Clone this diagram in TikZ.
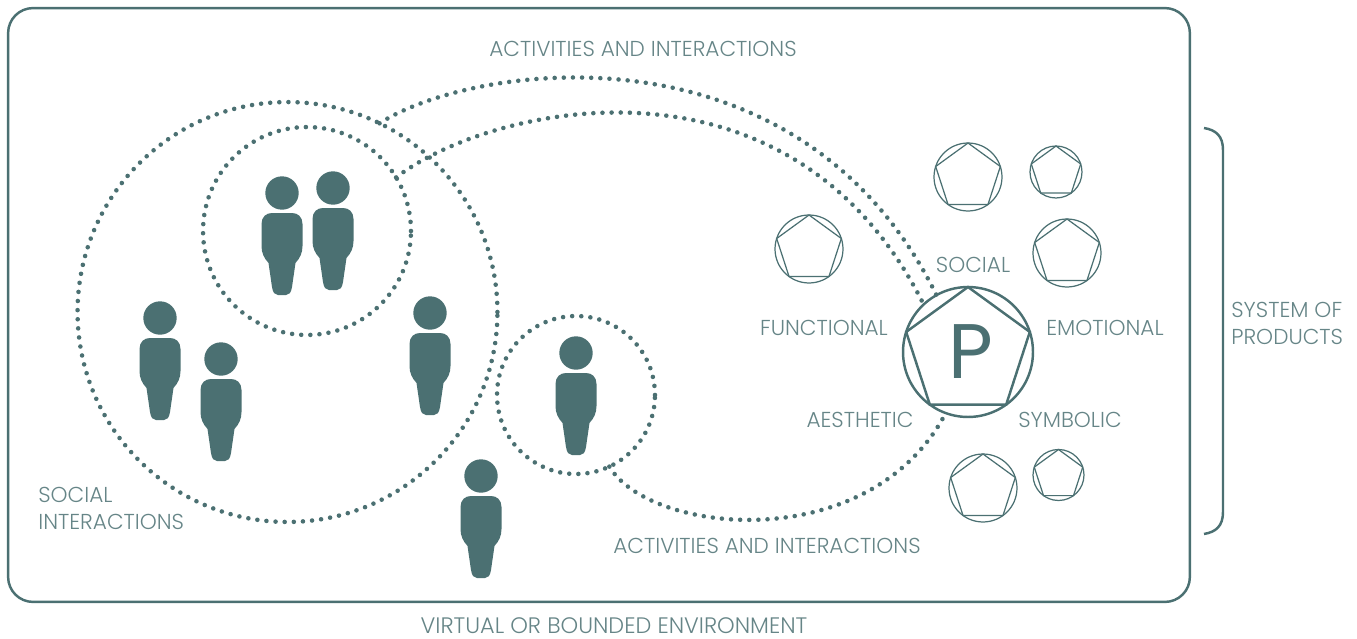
\documentclass[tikz,border=0pt]{standalone}
\usepackage{fontspec}
\usepackage{xcolor}
\usetikzlibrary{shapes.geometric}
\setmainfont{Poppins}[UprightFont=* Light]
\newfontfamily\letterfont{Poppins}
\definecolor{teal}{HTML}{4B7072}
\colorlet{labelteal}{teal!85}
\tikzset{
    label text/.style={text=labelteal, font=\fontsize{12.3pt}{15.3pt}\selectfont, inner sep=0pt},
    dots/.style={draw=teal, line width=2.6pt, line cap=round, dash pattern=on 0pt off 5.2pt},
    ring/.style={circle, draw=teal, inner sep=0pt, outer sep=0pt},
    penta/.style={regular polygon, regular polygon sides=5, draw=teal, inner sep=0pt, outer sep=0pt},
    person/.pic={
        \fill[teal] (0,0) circle (16.7);
        \fill[teal] (-10,20) -- (10,20) .. controls (16,20) and (20.5,24) .. (20.5,31) -- (20.5,53)
            .. controls (20.5,60) and (18,65) .. (13.5,70) -- (10,94) .. controls (9,100) and (7,102) .. (4,102)
            -- (-4,102) .. controls (-7,102) and (-9,100) .. (-10,94) -- (-13.5,70)
            .. controls (-18,65) and (-20.5,60) .. (-20.5,53) -- (-20.5,31) .. controls (-20.5,24) and (-16,20) .. (-10,20) -- cycle;
    }
}

\begin{document}
\begin{tikzpicture}[x=0.02cm, y=-0.02cm]
    \useasboundingbox (0,0) rectangle (1357,639);
    % environment
    \node[draw=teal, line width=1.4pt, rounded corners=0.5cm, minimum width=23.64cm, minimum height=11.88cm, inner sep=0pt] (environment) at (599,305) {};
    \node[label text, font=\fontsize{12.75pt}{15.3pt}\selectfont] (environment-label) at (614,626) {VIRTUAL OR BOUNDED ENVIRONMENT};
    % groups of people
    \node[ring, dots, minimum size=8.4cm] (group-large) at (287.5,312) {};
    \node[ring, dots, minimum size=4.16cm] (group-pair) at (307,231) {};
    \node[ring, dots, minimum size=3.16cm] (group-single) at (576,395) {};
    % people
    \foreach \px/\py [count=\i] in {160/318, 221/359, 282/193, 333/188, 430/313, 576/353, 481/476}
        \pic (person-\i) at (\px,\py) {person};
    % main product
    \node[ring, line width=1.4pt, minimum size=2.6cm] (product-main) at (968,352) {};
    \node[penta, line width=1.4pt, minimum size=2.6cm] (pentagon-main) at (968,352) {};
    \node[text=teal, font=\letterfont\fontsize{44pt}{44pt}\selectfont, inner sep=0pt] (letter-main) at (971,352) {P};
    % other products
    \foreach \px/\py/\pr [count=\i] in {968/177/34, 1056/172/26, 1067/253/34, 809/249/34, 983/488/34, 1058.5/475/25.5} {
        \node[ring, line width=0.7pt, minimum size={\pr*0.04cm}] (product-\i) at (\px,\py) {};
        \node[penta, line width=0.7pt, minimum size={\pr*0.04cm}] (pentagon-\i) at (\px,\py) {};
    }
    % activities
    \draw[dots] (group-large.64) .. controls (475,62) and (800,18) .. (product-main.119);
    \draw[dots] (group-pair.31) .. controls (490,105) and (790,37) .. (product-main.133);
    \draw[dots] (group-single.-65) .. controls (650,535) and (870,557) .. (product-main.250);
    % labels
    \node[label text] (activities-top) at (643,49) {ACTIVITIES AND INTERACTIONS};
    \node[label text] (activities-bottom) at (767,546) {ACTIVITIES AND INTERACTIONS};
    \node[label text] (social) at (973,265) {SOCIAL};
    \node[label text] (functional) at (824,328) {FUNCTIONAL};
    \node[label text] (emotional) at (1105,328) {EMOTIONAL};
    \node[label text] (aesthetic) at (860,420) {AESTHETIC};
    \node[label text] (symbolic) at (1070,420) {SYMBOLIC};
    \node[label text, align=left, anchor=west] (social-interactions) at (38,508) {SOCIAL\\INTERACTIONS};
    \node[label text, align=left, anchor=west] (system-label) at (1231,323) {SYSTEM OF\\PRODUCTS};
    % system bracket
    \coordinate (bracket-top) at (1204,128);
    \coordinate (bracket-bottom) at (1204,534);
    \draw[teal, line width=1.4pt] (bracket-top) .. controls (1216,130) and (1223,136) .. (1223,150) -- (1223,512) .. controls (1223,526) and (1216,532) .. (bracket-bottom);
\end{tikzpicture}
\end{document}
